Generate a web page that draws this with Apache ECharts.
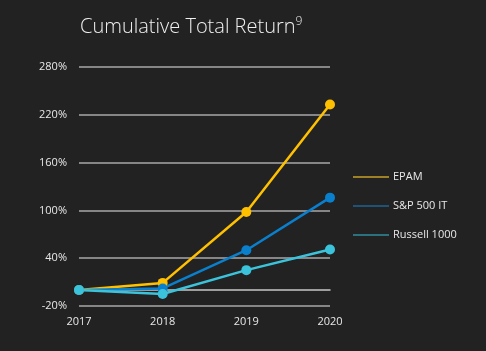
<!DOCTYPE html>
<html lang="en">
<head>
  <meta charset="UTF-8">
  <script src="https://cdn.jsdelivr.net/npm/echarts@6/dist/echarts.min.js"></script>
  <title>Cumulative Total Return</title>
  <style>
    html, body { margin: 0; padding: 0; background: #222222; }
  </style>
</head>
<body>
  <div id="main" style="width: 486px;height:351px;"></div>
  <script type="text/javascript">
    // data
    var years = ['2017', '2018', '2019', '2020'];
    var epam = [0, 9, 98, 233];
    var spIT = [0, 2, 50, 116];
    var russell = [0, -5, 25, 51];
    var seriesNames = ['EPAM', 'S&P 500 IT', 'Russell 1000'];
    var lineColors = ['#ffc000', '#0a7fcc', '#3cc3dc'];
    var legendColors = ['#c9a227', '#1f6394', '#2f8e9e'];

    var myChart = echarts.init(document.getElementById('main'));

    function makeSeries(name, data, color) {
      return {
        name: name,
        type: 'line',
        data: data,
        symbol: 'circle',
        symbolSize: 10,
        lineStyle: { color: color, width: 2.5 },
        itemStyle: { color: color },
        emphasis: { disabled: true }
      };
    }

    var option = {
      backgroundColor: '#222222',
      animation: false,
      title: {
        text: 'Cumulative Total Return{sup|9}',
        left: 75,
        top: 11,
        textStyle: {
          color: '#f0f0f0',
          fontFamily: 'Open Sans',
          fontWeight: 300,
          fontSize: 20,
          rich: {
            sup: { fontSize: 12, color: '#f0f0f0', fontFamily: 'Open Sans', verticalAlign: 'top', padding: [0, 0, 10, 0] }
          }
        }
      },
      legend: {
        orient: 'vertical',
        left: 353,
        top: 170,
        padding: 0,
        itemWidth: 36,
        itemHeight: 1.5,
        itemGap: 15,
        icon: 'rect',
        textStyle: { color: '#e8e8e8', fontSize: 11, fontFamily: 'Open Sans', lineHeight: 14, padding: [0, 0, 0, -1] },
        data: seriesNames.map(function (n, i) {
          return { name: n, itemStyle: { color: legendColors[i] } };
        })
      },
      grid: { left: 79, right: 156, top: 67, bottom: 45 },
      xAxis: {
        type: 'category',
        data: years,
        boundaryGap: false,
        axisLine: { show: true, onZero: true, lineStyle: { color: '#c8c8c8', width: 1.5 } },
        axisTick: { show: false },
        axisLabel: { color: '#e8e8e8', fontSize: 11, fontFamily: 'Open Sans', margin: 10 }
      },
      yAxis: {
        type: 'value',
        min: -20,
        max: 280,
        interval: 60,
        axisLine: { show: false },
        axisTick: { show: false },
        axisLabel: { color: '#e8e8e8', fontSize: 11, fontFamily: 'Open Sans', formatter: '{value}%', margin: 12 },
        splitLine: { lineStyle: { color: '#a8a8a8', width: 1.5 } }
      },
      series: [
        makeSeries(seriesNames[0], epam, lineColors[0]),
        makeSeries(seriesNames[1], spIT, lineColors[1]),
        makeSeries(seriesNames[2], russell, lineColors[2])
      ]
    };
    myChart.setOption(option);
  </script>
</body>
</html>
